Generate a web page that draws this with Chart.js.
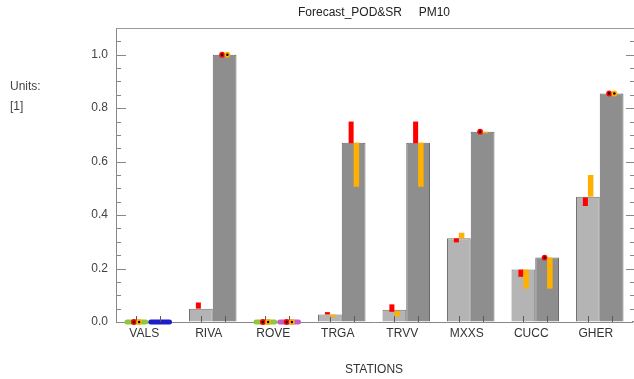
<!DOCTYPE html>
<html><head><meta charset="utf-8">
<script src="https://cdn.jsdelivr.net/npm/chart.js@4.4.0/dist/chart.umd.min.js"></script>
<style>html,body{margin:0;padding:0;background:#fff;}canvas{display:block;}</style>
</head><body>
<canvas id="c" width="634" height="379" style="width:634px;height:379px"></canvas>
<script>
const stations = ['VALS','RIVA','ROVE','TRGA','TRVV','MXXS','CUCC','GHER'];
const podValues = [0, 0.050, 0, 0.028, 0.046, 0.313, 0.196, 0.469];
const srValues  = [0, 1.000, 0, 0.671, 0.671, 0.712, 0.241, 0.855];
const podRedLow     = [0, 0.050, 0, 0.028, 0.038, 0.298, 0.169, 0.434];
const podRedHigh    = [0, 0.073, 0, 0.037, 0.066, 0.313, 0.196, 0.466];
const podOrangeLow  = [0, null, 0, 0.019, 0.021, 0.313, 0.125, 0.469];
const podOrangeHigh = [0, null, 0, 0.028, 0.041, 0.334, 0.196, 0.550];
const srRedLow      = [null, 1.000, 0, 0.669, 0.669, 0.712, 0.241, 0.855];
const srRedHigh     = [null, 1.000, 0, 0.750, 0.750, 0.712, 0.241, 0.855];
const srOrangeLow   = [null, 1.000, 0, 0.506, 0.506, 0.709, 0.125, 0.855];
const srOrangeHigh  = [null, 1.000, 0, 0.671, 0.671, 0.712, 0.241, 0.855];
const podZeroColors = ['#8dc63f', null, '#8dc63f', null, null, null, null, null];
const srZeroColors  = ['#1c1cc8', null, '#c65bc6', null, null, null, null, null];
const yTickValues = [0, 0.2, 0.4, 0.6, 0.8, 1.0];
const yMinorStep = 0.05;
const yMax = 1.1;
const titleText = 'Forecast_POD&SR     PM10';
const unitsLines = ['Units:', '[1]'];
const xTitle = 'STATIONS';

const FONT = '"Liberation Sans", Arial, sans-serif';

const decor = {
  id: 'decor',
  afterDatasetsDraw(chart) {
    const ctx = chart.ctx, ys = chart.scales.y;
    const m0 = chart.getDatasetMeta(0).data, m1 = chart.getDatasetMeta(1).data;
    const y0 = ys.getPixelForValue(0);
    ctx.save();
    const strip = (bar, color) => {
      if (!color) return;
      const w = bar.width, x = bar.x - w / 2, h = 5, r = 2.5;
      ctx.fillStyle = color;
      ctx.beginPath();
      ctx.roundRect(x, y0 - h / 2, w, h, r);
      ctx.fill();
    };
    stations.forEach((s, i) => { strip(m0[i], podZeroColors[i]); strip(m1[i], srZeroColors[i]); });
    // inner x ticks at bar centres
    ctx.strokeStyle = '#5a5a5a'; ctx.lineWidth = 1;
    [...m0, ...m1].forEach(b => {
      const x = Math.round(b.x) + 0.5;
      ctx.beginPath(); ctx.moveTo(x, y0); ctx.lineTo(x, y0 - 6); ctx.stroke();
    });
    const mark = (bar, lo, hi, color, dx, w) => {
      if (lo == null || hi == null) return;
      const cx = bar.x + dx;
      if (lo === hi) {
        const cy = ys.getPixelForValue(lo);
        ctx.fillStyle = color; ctx.beginPath(); ctx.arc(cx, cy, 2.9, 0, Math.PI * 2); ctx.fill();
        ctx.fillStyle = '#000'; ctx.beginPath(); ctx.arc(cx, cy, 1.2, 0, Math.PI * 2); ctx.fill();
      } else {
        const yt = ys.getPixelForValue(hi), yb = ys.getPixelForValue(lo);
        ctx.fillStyle = color;
        ctx.fillRect(cx - w / 2, yt, w, Math.max(1.5, yb - yt));
      }
    };
    stations.forEach((s, i) => {
      mark(m0[i], podRedLow[i], podRedHigh[i], '#ff0000', -2.5, 5);
      mark(m0[i], podOrangeLow[i], podOrangeHigh[i], '#ffb000', 2.75, 5.5);
      mark(m1[i], srRedLow[i], srRedHigh[i], '#ff0000', -2.5, 5);
      mark(m1[i], srOrangeLow[i], srOrangeHigh[i], '#ffb000', 2.75, 5.5);
    });
    ctx.restore();
  },
  afterDraw(chart) {
    const ctx = chart.ctx, ys = chart.scales.y, a = chart.chartArea;
    ctx.save();
    // top frame line
    ctx.strokeStyle = '#9a9a9a'; ctx.lineWidth = 1;
    ctx.beginPath(); ctx.moveTo(a.left, Math.round(a.top) + 0.5); ctx.lineTo(chart.width, Math.round(a.top) + 0.5); ctx.stroke();
    // x axis extension to right edge
    const y0 = Math.round(ys.getPixelForValue(0)) - 0.5;
    ctx.strokeStyle = '#888';
    ctx.beginPath(); ctx.moveTo(a.right, y0); ctx.lineTo(chart.width, y0); ctx.stroke();
    // inner y ticks left and right
    ctx.strokeStyle = '#888';
    const n = Math.round(yMax / yMinorStep);
    for (let k = 1; k < n; k++) {
      const v = k * yMinorStep;
      const major = yTickValues.some(t => Math.abs(t - v) < 1e-6);
      const py = Math.round(ys.getPixelForValue(v)) + 0.5;
      ctx.beginPath(); ctx.moveTo(a.left, py); ctx.lineTo(a.left + (major ? 10 : 5), py); ctx.stroke();
      ctx.beginPath(); ctx.moveTo(chart.width, py); ctx.lineTo(chart.width - (major ? 8 : 4), py); ctx.stroke();
    }
    // title
    ctx.fillStyle = '#222';
    ctx.font = '12px ' + FONT;
    ctx.textAlign = 'center'; ctx.textBaseline = 'middle';
    ctx.fillText(titleText, (a.left + a.right) / 2, 13);
    // units
    ctx.fillStyle = '#444';
    ctx.textAlign = 'left';
    ctx.fillText(unitsLines[0], 10, 87);
    ctx.fillText(unitsLines[1], 10, 107);
    ctx.restore();
  }
};

new Chart(document.getElementById('c'), {
  type: 'bar',
  data: {
    labels: stations,
    datasets: [
      { label: 'POD', data: podValues, backgroundColor: '#b4b4b4', borderColor: '#717171', borderWidth: 1, categoryPercentage: 0.736, barPercentage: 1 },
      { label: 'SR', data: srValues, backgroundColor: '#8e8e8e', borderColor: '#686868', borderWidth: 1, categoryPercentage: 0.736, barPercentage: 1 }
    ]
  },
  options: {
    responsive: false, animation: false, devicePixelRatio: 1,
    layout: { padding: { left: 0, right: 2, top: 28, bottom: 0 } },
    plugins: { legend: { display: false }, title: { display: false }, tooltip: { enabled: false } },
    scales: {
      x: {
        grid: { display: true, drawOnChartArea: false, drawTicks: false },
        border: { display: true, color: '#888', width: 1 },
        ticks: { font: { family: FONT, size: 12 }, color: '#333', padding: 4, labelOffset: -4, maxRotation: 0 },
        title: { display: true, text: xTitle, font: { family: FONT, size: 12 }, color: '#333', padding: { top: 0, bottom: 2 } },
        afterFit(s) { s.height = 57; }
      },
      y: {
        min: 0, max: yMax,
        grid: { display: true, drawOnChartArea: false, drawTicks: false },
        border: { display: true, color: '#888', width: 1 },
        afterBuildTicks(s) { s.ticks = yTickValues.map(v => ({ value: v })); },
        ticks: { font: { family: FONT, size: 12 }, color: '#444', padding: 8, callback: v => Number(v).toFixed(1) },
        afterFit(s) { s.width = 116; }
      }
    }
  },
  plugins: [decor]
});
</script>
</body></html>
